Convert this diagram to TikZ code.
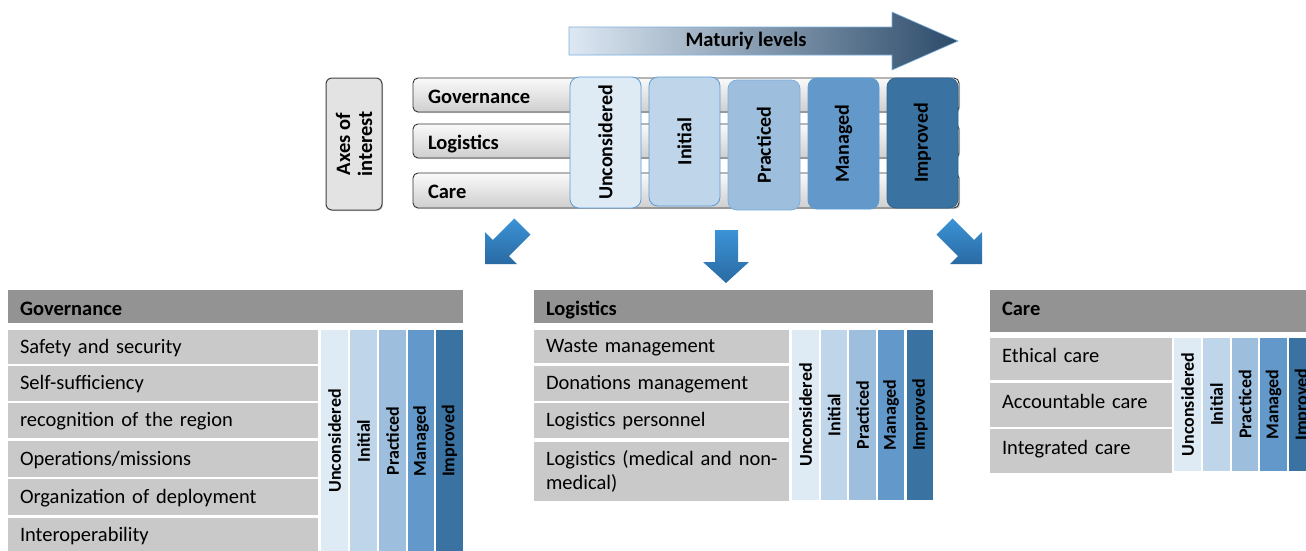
\documentclass[tikz,border=0pt]{standalone}
\usepackage{fontspec}
\setmainfont{Carlito}
\usetikzlibrary{shadows}
\definecolor{lvA}{HTML}{DEEAF4}
\definecolor{lvB}{HTML}{BFD5EA}
\definecolor{lvC}{HTML}{9EBEDD}
\definecolor{lvD}{HTML}{6399CA}
\definecolor{lvE}{HTML}{3A73A1}
\definecolor{lvborder}{HTML}{5B9BD5}
\definecolor{lvborderD}{HTML}{2F6592}
\definecolor{rowgray}{HTML}{C9C9C9}
\definecolor{headgray}{HTML}{939393}
\definecolor{matL}{HTML}{DDE8F3}
\definecolor{matM}{HTML}{AFC6DD}
\definecolor{matR}{HTML}{2C4B6A}
\definecolor{arrT}{HTML}{3B93D6}
\definecolor{arrB}{HTML}{2A6AA3}
\begin{document}
\begin{tikzpicture}[x=1pt,y=-1pt,
  every node/.style={inner sep=0pt, outer sep=0pt},
  bigfont/.style={font=\fontsize{20.5}{24}\selectfont},
  bigbold/.style={font=\fontsize{20.5}{24}\selectfont\bfseries},
  toprow/.style={draw=black!80, line width=0.9pt, rounded corners=5pt,
    top color=gray!4, bottom color=gray!38,
    drop shadow={opacity=0.35, shadow xshift=1.2pt, shadow yshift=-1.2pt},
    minimum width=546pt, text width=516pt, align=left, bigbold,
    text height=16pt, text depth=0pt},
  toplv/.style={rounded corners=9pt, line width=0.8pt, rotate=90,
    font=\fontsize{20}{24}\selectfont\bfseries, minimum height=71pt},
  head/.style={fill=headgray, align=left, bigbold, text height=17pt, text depth=0pt},
  item/.style={fill=rowgray, align=left, bigfont, text height=14pt, text depth=2pt},
  careitem/.style={fill=rowgray, align=left, bigfont, text height=13pt, text depth=7pt},
  col/.style={rotate=90, font=\fontsize{18}{22}\selectfont\bfseries}
]
\useasboundingbox (0,0) rectangle (1306,550);
\clip (0,0) rectangle (1306,550);

% ---------- Maturity arrow ----------
\path[draw=lvborder!80, line width=0.6pt, left color=matL, middle color=matM, right color=matR]
  (569,27) -- (892,27) -- (892,12) -- (958,41) -- (892,70) -- (892,55) -- (569,55) -- cycle;
\node[bigbold] (mat) at (746,41) {Maturiy levels};

% ---------- Axes of interest ----------
\node[draw=black!75, line width=1pt, rounded corners=6pt, fill=gray!22, rotate=90,
  minimum width=132pt, minimum height=56pt, bigbold, align=center,
  drop shadow={opacity=0.3, shadow xshift=1pt, shadow yshift=-1pt}]
  (axes) at (354,144) {Axes of\\[-2pt]interest};

% ---------- Axis rows ----------
\node[toprow, minimum height=34pt] (rgov) at (686,95) {Governance};
\node[toprow, minimum height=34pt] (rlog) at (686,141) {Logistics};
\node[toprow, minimum height=35pt] (rcare) at (686,190.5) {Care};

% ---------- Level boxes ----------
\node[toplv, fill=lvA, draw=lvborder, minimum width=131pt] (tU) at (605.5,142.5) {Unconsidered};
\node[toplv, fill=lvB, draw=lvborder, minimum width=129pt] (tI) at (684.5,141.5) {Initial};
\node[toplv, fill=lvC, draw=lvborder!80, minimum width=130pt, minimum height=72pt] (tP) at (764,145) {Practiced};
\node[toplv, fill=lvD, draw=lvborder, minimum width=131pt] (tM) at (843.5,143.5) {Managed};
\node[toplv, fill=lvE, draw=lvborderD, minimum width=130pt] (tE) at (922.5,143) {Improved};

% ---------- Block arrows ----------
\path[top color=arrT, bottom color=arrB]
  (485,264) -- (485,232.2) -- (492.8,240) -- (514.4,218.4) -- (530.6,234.6) -- (509,256.2) -- (516.8,264) -- cycle;
\path[top color=arrT, bottom color=arrB]
  (715,230) -- (738,230) -- (738,262) -- (749,262) -- (726,283) -- (703,262) -- (715,262) -- cycle;
\path[top color=arrT, bottom color=arrB]
  (982,264) -- (982,232.2) -- (974.2,240) -- (952.6,218.4) -- (936.4,234.6) -- (958,256.2) -- (950.2,264) -- cycle;

% ---------- Governance table ----------
\node[head, minimum width=455pt, minimum height=33pt, text width=431pt] (hg) at (235.5,306.5) {Governance};
\node[item, minimum width=310pt, minimum height=34pt, text width=286pt] (g1) at (163,347) {Safety and security};
\node[item, minimum width=310pt, minimum height=35pt, text width=286pt] (g2) at (163,383.5) {Self-sufficiency};
\node[item, minimum width=310pt, minimum height=35pt, text width=286pt] (g3) at (163,420.5) {recognition of the region};
\node[item, minimum width=310pt, minimum height=36pt, text width=286pt] (g4) at (163,459) {Operations/missions};
\node[item, minimum width=310pt, minimum height=36pt, text width=286pt] (g5) at (163,497) {Organization of deployment};
\node[item, minimum width=310pt, minimum height=35pt, text width=286pt] (g6) at (163,535.5) {Interoperability};
\node[col, fill=lvA, minimum width=222pt, minimum height=27pt] (gU) at (334.5,441) {Unconsidered};
\node[col, fill=lvB, minimum width=222pt, minimum height=27pt] (gI) at (363.5,441) {Initial};
\node[col, fill=lvC, minimum width=222pt, minimum height=27pt] (gP) at (392.5,441) {Practiced};
\node[col, fill=lvD, minimum width=222pt, minimum height=26pt] (gM) at (421,441) {Managed};
\node[col, fill=lvE, minimum width=222pt, minimum height=27pt] (gE) at (449.5,441) {Improved};

% ---------- Logistics table ----------
\node[head, minimum width=399pt, minimum height=33pt, text width=375pt] (hl) at (733.5,306.5) {Logistics};
\node[item, minimum width=255pt, minimum height=33pt, text width=231pt] (l1) at (661.5,346.5) {Waste management};
\node[item, minimum width=255pt, minimum height=35pt, text width=231pt] (l2) at (661.5,383.5) {Donations management};
\node[item, minimum width=255pt, minimum height=35pt, text width=231pt] (l3) at (661.5,420.5) {Logistics personnel};
\node[fill=rowgray, align=left, bigfont, minimum width=255pt, minimum height=59pt, text width=231pt] (l4) at (661.5,471) {\mbox{Logistics (medical and non-}\\medical)};
\node[col, fill=lvA, minimum width=170pt, minimum height=27pt] (lU) at (805.5,415) {Unconsidered};
\node[col, fill=lvB, minimum width=170pt, minimum height=26pt] (lI) at (834,415) {Initial};
\node[col, fill=lvC, minimum width=170pt, minimum height=27pt] (lP) at (862.5,415) {Practiced};
\node[col, fill=lvD, minimum width=170pt, minimum height=26pt] (lM) at (891,415) {Managed};
\node[col, fill=lvE, minimum width=170pt, minimum height=26pt] (lE) at (920,415) {Improved};

% ---------- Care table ----------
\node[head, minimum width=330pt, minimum height=42pt, text width=306pt, text height=13pt, text depth=5pt] (hc) at (1155,311) {Care};
\node[careitem, minimum width=182pt, minimum height=42pt, text width=158pt] (c1) at (1081,359) {Ethical care};
\node[careitem, minimum width=182pt, minimum height=44pt, text width=158pt] (c2) at (1081,405) {Accountable care};
\node[careitem, minimum width=182pt, minimum height=44pt, text width=158pt] (c3) at (1081,451) {Integrated care};
\node[col, fill=lvA, minimum width=133pt, minimum height=27pt] (cU) at (1187.5,404.5) {Unconsidered};
\node[col, fill=lvB, minimum width=133pt, minimum height=27pt] (cI) at (1216.5,404.5) {Initial};
\node[col, fill=lvC, minimum width=133pt, minimum height=26pt] (cP) at (1245,404.5) {Practiced};
\node[col, fill=lvD, minimum width=133pt, minimum height=27pt] (cM) at (1273.5,404.5) {Managed};
\node[col, fill=lvE, minimum width=133pt, minimum height=27pt] (cE) at (1302.5,404.5) {Improved};
\end{tikzpicture}
\end{document}
